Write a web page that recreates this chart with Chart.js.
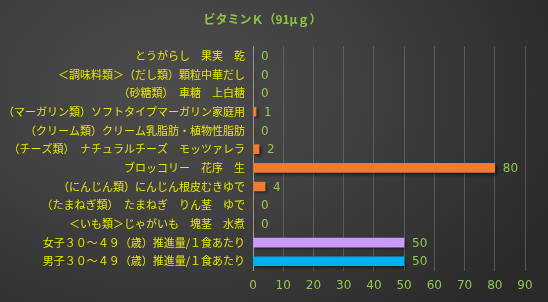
<!DOCTYPE html>
<html><head><meta charset="utf-8">
<script src="https://cdn.jsdelivr.net/npm/chart.js@4/dist/chart.umd.min.js"></script>
<style>
html,body{margin:0;padding:0;}
body{width:548px;height:302px;overflow:hidden;background:radial-gradient(ellipse 420px 300px at 170px 90px,#4c4c4c 0%,#404040 45%,#2a2a2a 100%);}
#wrap{position:relative;width:548px;height:302px;}
</style></head><body>
<div id="wrap"><canvas id="c" width="548" height="302"></canvas></div>
<script>
const titleText = "ビタミンＫ（91μｇ）";
const categories = [
  "とうがらし　果実　乾",
  "＜調味料類＞（だし類）顆粒中華だし",
  "（砂糖類）　車糖　上白糖",
  "（マーガリン類）ソフトタイプマーガリン家庭用",
  "（クリーム類）クリーム乳脂肪・植物性脂肪",
  "（チーズ類）　ナチュラルチーズ　モッツァレラ",
  "ブロッコリー　花序　生",
  "（にんじん類）にんじん根皮むきゆで",
  "（たまねぎ類）　たまねぎ　りん茎　ゆで",
  "＜いも類＞じゃがいも　塊茎　水煮",
  "女子３０～４９（歳）推進量/１食あたり",
  "男子３０～４９（歳）推進量/１食あたり"
];
const values = [0, 0, 0, 1, 0, 2, 80, 4, 0, 0, 50, 50];
const barColors = ["#f07a2e","#f07a2e","#f07a2e","#f07a2e","#f07a2e","#f07a2e","#f07a2e","#f07a2e","#f07a2e","#f07a2e","#cc99ff","#00b0f0"];
const xTicks = [0,10,20,30,40,50,60,70,80,90];

const valueLabels = {
  id:'valueLabels',
  afterDatasetsDraw(chart){
    const ctx = chart.ctx;
    const meta = chart.getDatasetMeta(0);
    ctx.save();
    ctx.font = '12px "DejaVu Sans", sans-serif';
    ctx.fillStyle = '#92c850';
    ctx.textAlign = 'left';
    ctx.textBaseline = 'middle';
    meta.data.forEach((el,i)=>{
      ctx.fillText(String(values[i]), el.x + 8, el.y + 1);
    });
    ctx.restore();
  }
};
const shadow = {
  id:'shadow',
  beforeDatasetsDraw(chart){ chart.ctx.save(); chart.ctx.shadowColor='rgba(0,0,0,0.55)'; chart.ctx.shadowOffsetX=2; chart.ctx.shadowOffsetY=2; chart.ctx.shadowBlur=3; },
  afterDatasetsDraw(chart){ chart.ctx.restore(); }
};

new Chart(document.getElementById('c'), {
  type:'bar',
  data:{ labels:categories, datasets:[{ data:values, backgroundColor:barColors, barThickness:9, borderWidth:0 }]},
  options:{
    indexAxis:'y',
    responsive:false,
    animation:false,
    devicePixelRatio:1,
    layout:{ padding:{ left:0, right:23, top:0, bottom:1 } },
    plugins:{
      legend:{display:false},
      tooltip:{enabled:false},
      title:{ display:true, text:titleText, color:'#8cc63f', font:{ family:'"Noto Sans CJK JP", sans-serif', size:12, weight:'bold' }, padding:{ top:12, bottom:20 } }
    },
    scales:{
      x:{
        min:0, max:90,
        ticks:{ stepSize:10, color:'#92c850', font:{ family:'"DejaVu Sans", sans-serif', size:12 }, padding:8,
          callback:(v)=> xTicks.includes(v) ? String(v) : '' },
        grid:{ color:'rgba(120,120,120,0.55)', drawTicks:false },
        border:{ display:false }
      },
      y:{
        ticks:{ color:'#e6e600', font:{ family:'"Noto Sans CJK JP", sans-serif', size:11 }, padding:8, autoSkip:false },
        grid:{ display:false, drawTicks:false },
        border:{ display:true, color:'#9a9a9a', width:1 },
        afterFit(scale){ scale.width = 253; }
      }
    }
  },
  plugins:[shadow, valueLabels]
});
</script>
</body></html>
